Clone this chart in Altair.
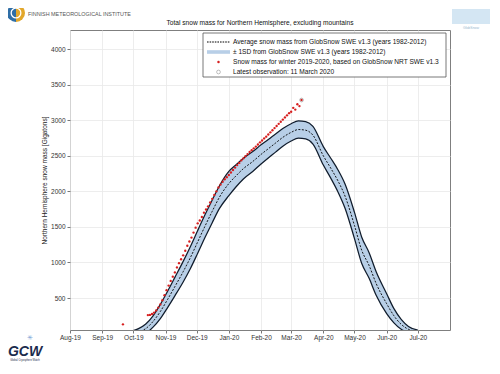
import altair as alt
import pandas as pd

FONT = "Liberation Sans"

# ---------------- data ----------------
band_dates = ["2019-09-28", "2019-10-06", "2019-10-13", "2019-10-20", "2019-10-27",
              "2019-11-03", "2019-11-10", "2019-11-18", "2019-11-25", "2019-12-02",
              "2019-12-09", "2019-12-16", "2019-12-23", "2020-01-01", "2020-01-08",
              "2020-01-15", "2020-01-24", "2020-02-01", "2020-02-08", "2020-02-15",
              "2020-02-22", "2020-03-01", "2020-03-08", "2020-03-15", "2020-03-22",
              "2020-04-01", "2020-04-08", "2020-04-15", "2020-04-22", "2020-05-01",
              "2020-05-08", "2020-05-15", "2020-05-22", "2020-06-01", "2020-06-08",
              "2020-06-15", "2020-06-22", "2020-07-01"]
mean_vals = [0, 25, 70, 170, 310,
             480, 660, 870, 1070, 1290,
             1510, 1720, 1920, 2110, 2220,
             2320, 2420, 2520, 2600, 2680,
             2760, 2830, 2870, 2860, 2790,
             2500, 2330, 2150, 1930, 1520,
             1170, 960, 700, 420, 250,
             130, 60, 30]
sd_vals = [30, 45, 65, 80, 100,
           115, 130, 145, 155, 160,
           160, 160, 160, 170, 155,
           145, 140, 135, 130, 128,
           125, 122, 122, 122, 125,
           130, 140, 155, 170, 185,
           185, 180, 165, 140, 100,
           70, 40, 20]

obs_dates = ["2019-09-21",
             "2019-10-15", "2019-10-17", "2019-10-19", "2019-10-21", "2019-10-23",
             "2019-10-25", "2019-10-27", "2019-10-29", "2019-10-31",
             "2019-11-02", "2019-11-04", "2019-11-06", "2019-11-08", "2019-11-10",
             "2019-11-12", "2019-11-14", "2019-11-16", "2019-11-18", "2019-11-20",
             "2019-11-22", "2019-11-24", "2019-11-26", "2019-11-28", "2019-11-30",
             "2019-12-02", "2019-12-04", "2019-12-06", "2019-12-08", "2019-12-10",
             "2019-12-12", "2019-12-14", "2019-12-16", "2019-12-18", "2019-12-20",
             "2019-12-22", "2019-12-24", "2019-12-26", "2019-12-28", "2019-12-30",
             "2020-01-01", "2020-01-03", "2020-01-05", "2020-01-07", "2020-01-09",
             "2020-01-11", "2020-01-13", "2020-01-15", "2020-01-17", "2020-01-19",
             "2020-01-21", "2020-01-23", "2020-01-25", "2020-01-27", "2020-01-29",
             "2020-01-31",
             "2020-02-02", "2020-02-04", "2020-02-06", "2020-02-08", "2020-02-10",
             "2020-02-12", "2020-02-14", "2020-02-16", "2020-02-18", "2020-02-20",
             "2020-02-22", "2020-02-24", "2020-02-26", "2020-02-28",
             "2020-03-01", "2020-03-03", "2020-03-05", "2020-03-07", "2020-03-09",
             "2020-03-11"]
obs_vals = [130,
            260, 262, 275, 295, 325,
            365, 410, 470, 540,
            610, 675, 740, 800, 860,
            930, 990, 1045, 1100, 1165,
            1235, 1295, 1350, 1420, 1490,
            1550, 1590, 1640, 1700, 1745,
            1790, 1845, 1895, 1950, 2000,
            2055, 2095, 2135, 2170, 2200,
            2230, 2265, 2300, 2335, 2370,
            2400, 2435, 2465, 2495, 2525,
            2555, 2580, 2605, 2630, 2660,
            2690,
            2715, 2745, 2770, 2800, 2830,
            2860, 2890, 2920, 2950, 2980,
            3010, 3040, 3070, 3100,
            3120, 3175, 3150, 3225, 3200,
            3285]

latest_date = ["2020-03-11"]
latest_val = [3285]

month_ticks = ["2019-08", "2019-09", "2019-10", "2019-11", "2019-12", "2020-01",
               "2020-02", "2020-03", "2020-04", "2020-05", "2020-06", "2020-07"]
y_ticks = [500, 1000, 1500, 2000, 2500, 3000, 3500, 4000]

title_text = "Total snow mass for Northern Hemisphere, excluding mountains"
y_title = "Northern Hemisphere snow mass [Gigatons]"
legend_labels = ["Average snow mass from GlobSnow SWE v1.3 (years 1982-2012)",
                 "\u00b1 1SD from GlobSnow SWE v1.3 (years 1982-2012)",
                 "Snow mass for winter 2019-2020, based on GlobSnow NRT SWE v1.3",
                 "Latest observation: 11 March 2020"]

# ---------------- tables ----------------
band_df = pd.DataFrame({"date": band_dates, "mean": mean_vals, "sd": sd_vals})
band_df["lower"] = band_df["mean"] - band_df["sd"]
band_df["upper"] = band_df["mean"] + band_df["sd"]
obs_df = pd.DataFrame({"date": obs_dates, "value": obs_vals})
latest_df = pd.DataFrame({"date": latest_date, "value": latest_val})
one = pd.DataFrame({"a": [0]})

W, H = 380, 300

def dt(s):
    return alt.DateTime(year=int(s[:4]), month=int(s[5:7]), date=1)

x_scale = alt.Scale(domain=[alt.DateTime(year=2019, month=8, date=1),
                            alt.DateTime(year=2020, month=8, date=1)])
x_axis = alt.Axis(values=[dt(s) for s in month_ticks], format="%b-%y", title=None,
                  labelFont=FONT, labelFontSize=6.5, labelColor="#333333",
                  labelFlush=False, labelOverlap=False,
                  tickSize=3, tickColor="#777777", labelPadding=1,
                  grid=True, gridColor="#e9e9e9", gridWidth=0.8, domain=False)
y_scale = alt.Scale(domain=[50, 4270], nice=False, zero=False)
y_axis = alt.Axis(values=y_ticks, title=y_title, format="d",
                  labelFont=FONT, labelFontSize=6.5, labelColor="#333333",
                  titleFont=FONT, titleFontSize=6.5, titleFontWeight="normal",
                  titleColor="#222222", titlePadding=3,
                  tickSize=3, tickColor="#777777", labelPadding=2,
                  grid=True, gridColor="#e9e9e9", gridWidth=0.8, domain=False)

X = alt.X("date:T", scale=x_scale, axis=x_axis)

def Y(field):
    return alt.Y(field, type="quantitative", scale=y_scale, axis=y_axis)

band = alt.Chart(band_df).mark_area(color="#b8cfe7", opacity=1, clip=True,
                                    interpolate="monotone").encode(
    x=X, y=Y("lower"), y2="upper:Q")
upper = alt.Chart(band_df).mark_line(color="#101c2c", strokeWidth=1.25, clip=True,
                                     interpolate="monotone").encode(x=X, y=Y("upper"))
lower = alt.Chart(band_df).mark_line(color="#101c2c", strokeWidth=1.25, clip=True,
                                     interpolate="monotone").encode(x=X, y=Y("lower"))
mean = alt.Chart(band_df).mark_line(color="#000000", strokeWidth=0.9, strokeDash=[2, 1.5],
                                    clip=True, interpolate="monotone").encode(x=X, y=Y("mean"))
dots = alt.Chart(obs_df).mark_circle(size=5.5, color="#d61f1f", opacity=1, clip=True).encode(
    x=X, y=Y("value"))
latest = alt.Chart(latest_df).mark_point(size=14, color="#666666", filled=False,
                                         strokeWidth=0.6, clip=True).encode(x=X, y=Y("value"))

def txt(s, x, y, size=6.6, align="left", color="#111111", **kw):
    return alt.Chart(one).mark_text(text=s, align=align, baseline="middle", font=FONT,
                                    fontSize=size, color=color, **kw).encode(
        x=alt.value(x), y=alt.value(y))

# legend (pixel positions relative to plot area)
lx0, lx1, ly0, ly1 = 133, 376, 3, 47
rows = [12, 22, 32, 42]
leg_box = alt.Chart(one).mark_rect(fill="white", stroke="#555555", strokeWidth=0.8).encode(
    x=alt.value(lx0), x2=alt.value(lx1), y=alt.value(ly0), y2=alt.value(ly1))
leg_mean = alt.Chart(one).mark_rule(color="black", strokeWidth=1.2, strokeDash=[1.6, 1]).encode(
    x=alt.value(137), x2=alt.value(160), y=alt.value(rows[0]))
leg_band = alt.Chart(one).mark_rect(fill="#b8cfe7").encode(
    x=alt.value(137), x2=alt.value(160), y=alt.value(rows[1] - 1.8), y2=alt.value(rows[1] + 1.8))
leg_dot = alt.Chart(one).mark_circle(size=6, color="#d61f1f", opacity=1).encode(
    x=alt.value(148.5), y=alt.value(rows[2]))
leg_circ = alt.Chart(one).mark_point(size=14, color="#666666", strokeWidth=0.6).encode(
    x=alt.value(148.5), y=alt.value(rows[3]))
leg_texts = [txt(t, 163, r) for t, r in zip(legend_labels, rows)]

# header / decorations
title = txt(title_text, 190, -7, size=6.6, align="center")
fmi_text = txt("FINNISH METEOROLOGICAL INSTITUTE", -42, -16, size=5.4, color="#555555")
fmi_left = alt.Chart(one).mark_arc(color="#2f6ea6", theta=3.1416, theta2=6.2832, radius=9).encode(
    x=alt.value(-54), y=alt.value(-17))
fmi_right = alt.Chart(one).mark_arc(color="#e2a72b", theta=0, theta2=3.1416, radius=9).encode(
    x=alt.value(-54), y=alt.value(-17))
fmi_ring = alt.Chart(one).mark_arc(color="white", theta=0, theta2=6.2832, radius=5.5,
                                   radius2=4.2).encode(x=alt.value(-54), y=alt.value(-17))
gs_box = alt.Chart(one).mark_rect(fill="#d4e6f3").encode(
    x=alt.value(382), x2=alt.value(420), y=alt.value(-21), y2=alt.value(-6))
gs_text = txt("GlobSnow", 401, -2, size=3.5, align="center", color="#9ab8cf")
gcw = txt("GCW", -45, 322, size=14, align="center", color="#1b2b4d",
          fontWeight="bold", fontStyle="italic")
gcw_sub = txt("Global Cryosphere Watch", -45, 330, size=2.6, align="center", color="#1b2b4d")
gcw_star = txt("\u2733", -40, 308, size=7, align="center", color="#7a9fd6")

chart = alt.layer(
    band, upper, lower, mean, dots, latest,
    leg_box, leg_mean, leg_band, leg_dot, leg_circ, *leg_texts,
    title, fmi_left, fmi_right, fmi_ring, fmi_text, gs_box, gs_text, gcw, gcw_sub, gcw_star,
).properties(
    width=W, height=H,
    autosize=alt.AutoSizeParams(type="none"),
    padding={"left": 62, "top": 22, "right": 40, "bottom": 32},
    background="white",
).configure_view(stroke="#7f7f7f", strokeWidth=1)

chart.save("out.html", embed_options={"renderer": "svg", "actions": False})
